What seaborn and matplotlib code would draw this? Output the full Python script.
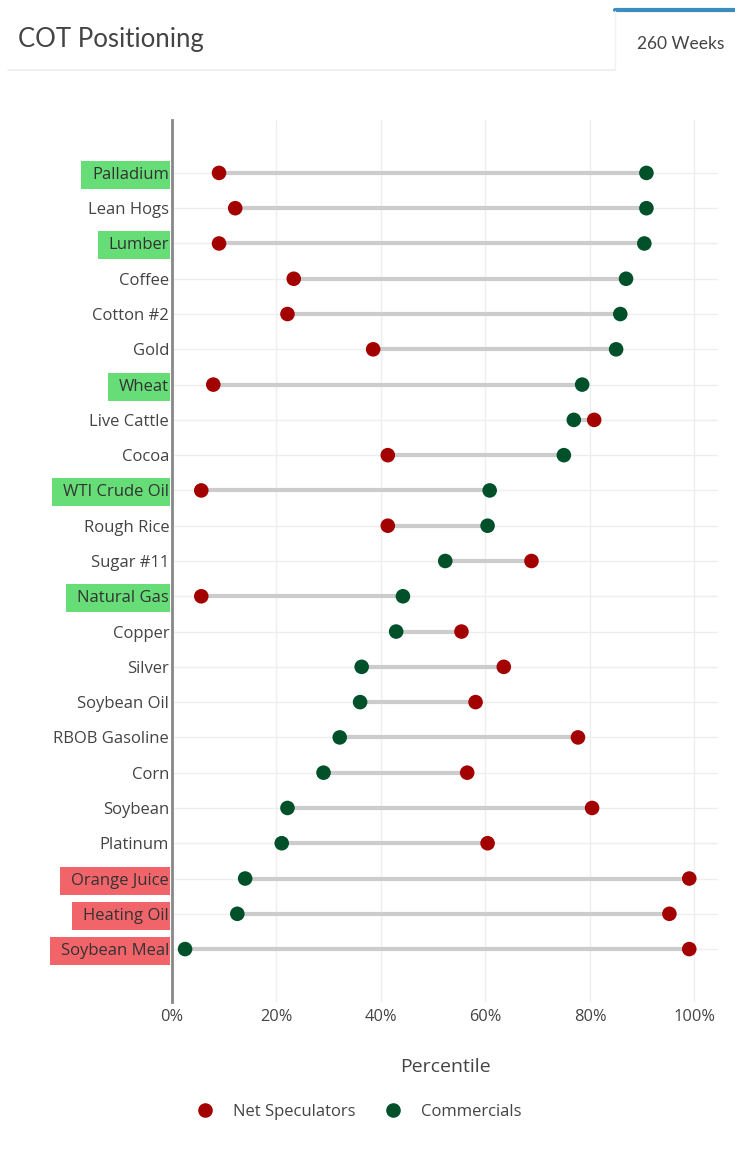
import matplotlib
matplotlib.use("Agg")
import matplotlib.pyplot as plt
import pandas as pd
import seaborn as sns
from matplotlib.lines import Line2D
from matplotlib.patches import Rectangle

# Data (percentile over 260 weeks)
commodities = [
    "Palladium", "Lean Hogs", "Lumber", "Coffee", "Cotton #2", "Gold", "Wheat",
    "Live Cattle", "Cocoa", "WTI Crude Oil", "Rough Rice", "Sugar #11",
    "Natural Gas", "Copper", "Silver", "Soybean Oil", "RBOB Gasoline", "Corn",
    "Soybean", "Platinum", "Orange Juice", "Heating Oil", "Soybean Meal",
]
net_speculators = [
    9.0, 12.1, 9.0, 23.3, 22.1, 38.5, 7.9, 80.8, 41.3, 5.6, 41.3, 68.8,
    5.6, 55.4, 63.5, 58.1, 77.7, 56.5, 80.4, 60.4, 99.0, 95.2, 99.0,
]
commercials = [
    90.8, 90.8, 90.4, 86.9, 85.8, 85.0, 78.5, 76.9, 75.0, 60.8, 60.4, 52.3,
    44.2, 42.9, 36.3, 36.0, 32.1, 29.0, 22.1, 21.0, 14.0, 12.5, 2.5,
]
highlight_green = ["Palladium", "Lumber", "Wheat", "WTI Crude Oil", "Natural Gas"]
highlight_red = ["Orange Juice", "Heating Oil", "Soybean Meal"]

RED = "#a30000"
GREEN = "#00502a"
TEXT = "#444444"

df = pd.DataFrame({"commodity": commodities,
                   "Net Speculators": net_speculators,
                   "Commercials": commercials})
long_df = df.melt(id_vars="commodity", var_name="group", value_name="pct")

sns.set_theme(style="whitegrid")
plt.rcParams["font.family"] = ["Open Sans", "DejaVu Sans"]

W, H = 735, 1151
fig = plt.figure(figsize=(W / 100, H / 100), dpi=100)
ax = fig.add_axes([172 / W, 1 - 1002 / H, (718 - 172) / W, (1002 - 120) / H])

# connecting lines
ax.hlines(df["commodity"], df["Net Speculators"], df["Commercials"],
          color="#cccccc", linewidth=3, zorder=2)
sns.scatterplot(data=long_df, x="pct", y="commodity", hue="group",
                palette={"Net Speculators": RED, "Commercials": GREEN},
                s=110, edgecolor="none", zorder=3, legend=False, ax=ax)

ax.set_xlim(0, 104.5)
ax.set_ylim(len(commodities) - 1 + 1.5, -1.5)
ax.set_xticks([0, 20, 40, 60, 80, 100])
ax.set_xticklabels([f"{v}%" for v in [0, 20, 40, 60, 80, 100]])
ax.set_xlabel("Percentile", fontsize=14, color=TEXT, labelpad=24)
ax.set_ylabel("")
ax.grid(True, color="#eeeeee", linewidth=1)
for side in ["top", "right", "bottom"]:
    ax.spines[side].set_visible(False)
ax.spines["left"].set_color("#888888")
ax.spines["left"].set_linewidth(2)
ax.tick_params(axis="y", length=0, pad=2, labelsize=12, labelcolor=TEXT)
ax.tick_params(axis="x", length=0, pad=5, labelsize=11.8, labelcolor=TEXT)

# highlight boxes behind some labels
fig.canvas.draw()
renderer = fig.canvas.get_renderer()
inv = ax.transAxes.inverted()
for lab in ax.get_yticklabels():
    name = lab.get_text()
    if name in highlight_green:
        color = "#66dd77"
    elif name in highlight_red:
        color = "#f0646a"
    else:
        continue
    bb = lab.get_window_extent(renderer)
    cy = (bb.y0 + bb.y1) / 2
    (x0, y0) = inv.transform((bb.x0 - 11, cy - 14))
    (x1, y1) = inv.transform((bb.x1 + 1, cy + 14))
    ax.add_patch(Rectangle((x0, y0), x1 - x0, y1 - y0, transform=ax.transAxes,
                           facecolor=color, edgecolor="none", clip_on=False, zorder=0.2))
    lab.set_color("#333333")

# legend
handles = [Line2D([], [], marker="o", linestyle="none", markersize=10.5,
                  markerfacecolor=c, markeredgecolor="none")
           for c in [RED, GREEN]]
fig.legend(handles, ["Net Speculators", "Commercials"], loc="center",
           bbox_to_anchor=(355 / W, 1 - 1112 / H), ncol=2, frameon=False,
           fontsize=12, labelcolor=TEXT, handletextpad=0.7, columnspacing=1.2)

# header
fig.text(18 / W, 1 - 40 / H, "COT Positioning", fontsize=18.5, color=TEXT,
         family=["Lato", "DejaVu Sans"], va="center", ha="left")
fig.add_artist(Line2D([8 / W, 615 / W], [1 - 70 / H] * 2, color="#eeeeee", linewidth=1.2))
fig.add_artist(Line2D([615 / W, 1.0], [1 - 10 / H] * 2, color="#3c8dbc", linewidth=3))
fig.add_artist(Line2D([615 / W] * 2, [1 - 11 / H, 1 - 70 / H], color="#f2f2f2", linewidth=1))
fig.text(681 / W, 1 - 44 / H, "260 Weeks", fontsize=12.5, color=TEXT,
         family=["Lato", "DejaVu Sans"], va="center", ha="center")

fig.savefig("out.png", dpi=100)
